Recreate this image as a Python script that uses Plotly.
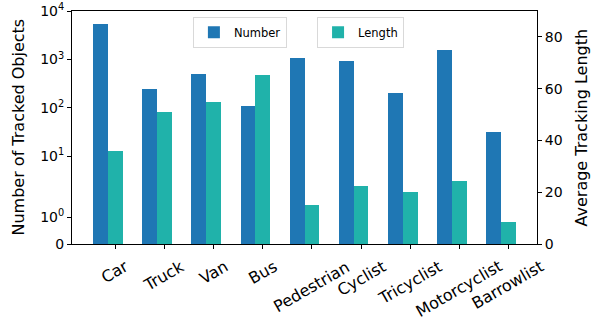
import numpy as np
import plotly.graph_objects as go

categories = ["Car", "Truck", "Van", "Bus", "Pedestrian", "Cyclist",
              "Tricyclist", "Motorcyclist", "Barrowlist"]
number_values = [5350, 248, 503, 111, 1073, 932, 205, 1567, 32]
length_values = [35.9, 51.0, 54.8, 65.3, 15.1, 22.4, 20.0, 24.3, 8.5]
left_tick_values = [0, 1, 10, 100, 1000, 10000]
left_tick_labels = ["0", "10<sup>0</sup>", "10<sup>1</sup>", "10<sup>2</sup>",
                    "10<sup>3</sup>", "10<sup>4</sup>"]
right_tick_values = [0, 20, 40, 60, 80]

LINTHRESH = 2.0
LINSCALE = 1.0


def symlog(v):
    a = LINSCALE / (1 - 1 / 10.0)
    v = float(v)
    if abs(v) <= LINTHRESH:
        return v * a
    return float(np.sign(v) * LINTHRESH * (a + np.log10(abs(v) / LINTHRESH)))


idx = np.arange(len(categories))
bw = 0.3
BLUE = "#1f77b4"
TEAL = "#20b2aa"
FONT = "DejaVu Sans"
TICK = 14
TITLE = 16

fig = go.Figure()
fig.add_trace(go.Bar(
    x=idx, y=[symlog(v) for v in number_values], width=bw,
    marker=dict(color=BLUE, line=dict(width=0)), name="Number",
    customdata=number_values, legend="legend", yaxis="y",
))
fig.add_trace(go.Bar(
    x=idx + bw, y=length_values, width=bw,
    marker=dict(color=TEAL, line=dict(width=0)), name="Length",
    legend="legend2", yaxis="y2",
))

annotations = []
for i, c in enumerate(categories):
    annotations.append(dict(
        x=i + bw, xref="x", y=0, yref="paper", yshift=-10,
        text=c, showarrow=False, textangle=-30,
        xanchor="center", yanchor="top",
        font=dict(family=FONT, size=16, color="black"),
    ))
annotations.append(dict(
    x=0, xref="paper", xshift=-54, y=0.5, yref="paper",
    text="Number of Tracked Objects", showarrow=False, textangle=-90,
    xanchor="center", yanchor="middle",
    font=dict(family=FONT, size=TITLE, color="black"),
))
annotations.append(dict(
    x=1, xref="paper", xshift=44, y=0.5, yref="paper",
    text="Average Tracking Length", showarrow=False, textangle=-90,
    xanchor="center", yanchor="middle",
    font=dict(family=FONT, size=TITLE, color="black"),
))

top = symlog(10000) * 1.0005

fig.update_layout(
    width=595, height=317,
    margin=dict(l=72, r=58, t=11, b=73, autoexpand=False),
    paper_bgcolor="white", plot_bgcolor="white",
    barmode="overlay", bargap=0,
    font=dict(family=FONT, size=TICK, color="black"),
    xaxis=dict(
        range=[-0.58, len(categories) - 1 + 0.88],
        tickvals=idx + bw, ticktext=[""] * len(categories),
        showticklabels=False, automargin=False,
        ticks="outside", ticklen=4, tickwidth=1, tickcolor="black",
        showline=True, linecolor="black", linewidth=1, mirror=True,
        showgrid=False, zeroline=False,
    ),
    yaxis=dict(
        range=[0, top], automargin=False,
        tickvals=[symlog(v) for v in left_tick_values],
        ticktext=left_tick_labels,
        ticks="outside", ticklen=4, tickwidth=1, tickcolor="black",
        showline=True, linecolor="black", linewidth=1,
        showgrid=False, zeroline=False,
        tickfont=dict(size=TICK),
    ),
    yaxis2=dict(
        overlaying="y", side="right", automargin=False,
        range=[0, 90],
        tickvals=right_tick_values,
        ticks="outside", ticklen=4, tickwidth=1, tickcolor="black",
        showline=True, linecolor="black", linewidth=1,
        showgrid=False, zeroline=False,
        tickfont=dict(size=TICK),
    ),
    legend=dict(
        x=0.26, y=0.975, xanchor="left", yanchor="top",
        bgcolor="white", bordercolor="#d9d9d9", borderwidth=1,
        font=dict(family=FONT, size=11.5),
    ),
    legend2=dict(
        x=0.527, y=0.975, xanchor="left", yanchor="top",
        bgcolor="white", bordercolor="#d9d9d9", borderwidth=1,
        font=dict(family=FONT, size=11.5),
    ),
    annotations=annotations,
    showlegend=True,
)

fig.write_html(
    "out.html",
    config={"displayModeBar": False},
    post_script="document.body.style.margin='0';document.body.style.padding='0';",
)
